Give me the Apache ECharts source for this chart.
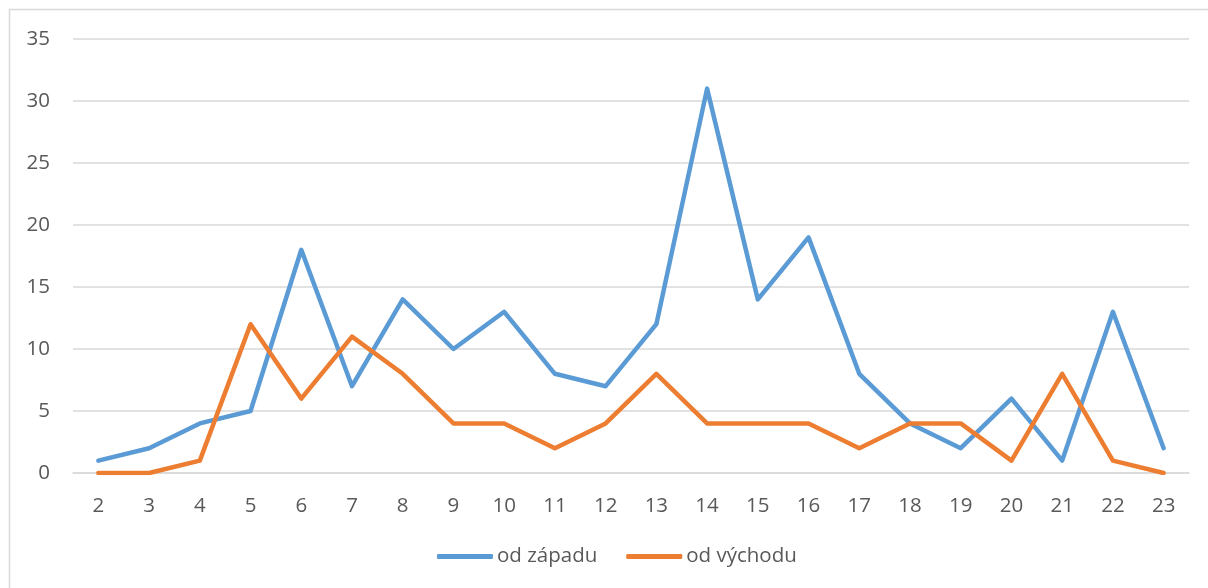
<!DOCTYPE html>
<html>
<head>
<meta charset="utf-8">
<script src="https://cdn.jsdelivr.net/npm/echarts@6/dist/echarts.min.js"></script>
<style>
  html, body { margin: 0; padding: 0; background: #fff; }
  #chart { width: 1208px; height: 588px; }
</style>
</head>
<body>
<div id="chart"></div>
<script>
// data
const categories = ['2', '3', '4', '5', '6', '7', '8', '9', '10', '11', '12', '13', '14', '15', '16', '17', '18', '19', '20', '21', '22', '23'];
const odZapadu = [1, 2, 4, 5, 18, 7, 14, 10, 13, 8, 7, 12, 31, 14, 19, 8, 4, 2, 6, 1, 13, 2];
const odVychodu = [0, 0, 1, 12, 6, 11, 8, 4, 4, 2, 4, 8, 4, 4, 4, 2, 4, 4, 1, 8, 1, 0];

const FONT = '"Open Sans", "Noto Sans", sans-serif';
const TEXT = '#595959';

const chart = echarts.init(document.getElementById('chart'));

chart.setOption({
  animation: false,
  textStyle: { fontFamily: FONT },
  graphic: [{
    type: 'rect',
    shape: { x: 9.5, y: 9.5, width: 1220, height: 600 },
    style: { fill: 'none', stroke: '#d9d9d9', lineWidth: 1.5 },
    silent: true
  }],
  grid: { left: 73, right: 19, top: 39, bottom: 115 },
  legend: {
    bottom: 16,
    left: 432,
    itemWidth: 56,
    itemHeight: 5,
    itemGap: 29,
    icon: 'roundRect',
    textStyle: { color: TEXT, fontSize: 20.5, fontFamily: FONT, padding: [0, 0, 0, -1] },
    data: ['od západu', 'od východu']
  },
  xAxis: {
    type: 'category',
    data: categories,
    boundaryGap: true,
    axisLine: { show: true, lineStyle: { color: '#d9d9d9', width: 1.5 } },
    axisTick: { show: false },
    axisLabel: { color: TEXT, fontSize: 20.5, margin: 23 }
  },
  yAxis: {
    type: 'value',
    min: 0,
    max: 35,
    interval: 5,
    axisLine: { show: false },
    axisTick: { show: false },
    axisLabel: { color: TEXT, fontSize: 20.5, margin: 23 },
    splitLine: { lineStyle: { color: '#d9d9d9', width: 1.5 } }
  },
  series: [
    {
      name: 'od západu',
      type: 'line',
      data: odZapadu,
      symbol: 'none',
      lineStyle: { color: '#5B9BD5', width: 4.5, cap: 'round', join: 'round' },
      itemStyle: { color: '#5B9BD5' }
    },
    {
      name: 'od východu',
      type: 'line',
      data: odVychodu,
      symbol: 'none',
      lineStyle: { color: '#ED7D31', width: 4.5, cap: 'round', join: 'round' },
      itemStyle: { color: '#ED7D31' }
    }
  ]
});
</script>
</body>
</html>
